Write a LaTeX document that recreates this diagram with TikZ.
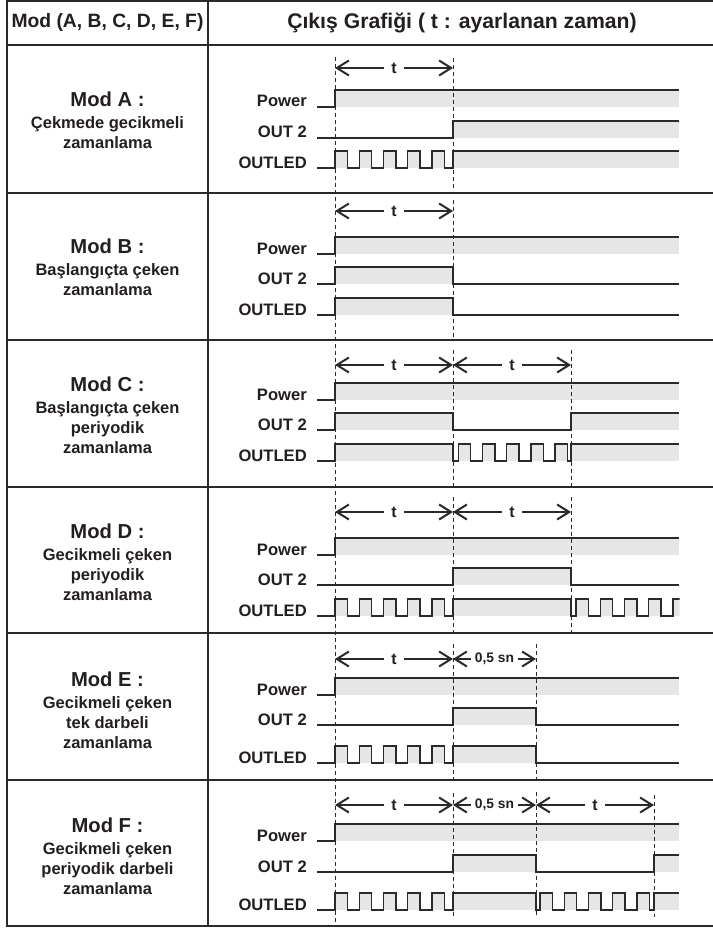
\documentclass[tikz,border=0pt]{standalone}
\usepackage{fontspec}
\setmainfont{Liberation Sans}
\usetikzlibrary{arrows.meta}
\definecolor{lnc}{HTML}{2A2A2A}
\definecolor{bandc}{HTML}{E6E6E7}
\definecolor{txtc}{HTML}{231F20}
\newcommand\fhdL{\fontsize{19.3}{22}\selectfont\bfseries}
\newcommand\fhdR{\fontsize{21.2}{24}\selectfont\bfseries}
\newcommand\ftitle{\fontsize{20.2}{22}\selectfont\bfseries}
\newcommand\fsub{\fontsize{16.5}{20}\selectfont\bfseries}
\newcommand\flab{\fontsize{16.6}{18}\selectfont\bfseries}
\newcommand\farr{\fontsize{16}{18}\selectfont\bfseries}
\newcommand\fsn{\fontsize{13.8}{16}\selectfont\bfseries}
\newcommand\rowlabels[4]{%
  \node[lab] (p#1) at (307,#2) {Power};
  \node[lab] (o#1) at (307,#3) {OUT 2};
  \node[lab] (l#1) at (307,#4) {OUTLED};}
\tikzset{
  tableline/.style={draw=lnc, line width=1.5pt},
  sig/.style={draw=lnc, line width=1.4pt, line join=miter},
  tdash/.style={draw=lnc, line width=0.8pt, dash pattern=on 4pt off 3pt},
  tarrow/.style={draw=lnc, line width=1.3pt,
    {Straight Barb[length=12pt,width=15pt,line width=2pt]}-{Straight Barb[length=12pt,width=15pt,line width=2pt]}},
  lab/.style={anchor=base east, inner sep=0pt, text=txtc, font=\flab},
  modtxt/.style={align=center, text=txtc, font=\fsub, inner sep=0pt},
  alab/.style={fill=white, text=txtc, inner xsep=7.5pt, inner ysep=1pt, font=\farr},
  slab/.style={fill=white, text=txtc, inner xsep=3.5pt, inner ysep=1pt, font=\fsn},
  hd/.style={text=txtc, inner sep=0pt},
}
\begin{document}
\begin{tikzpicture}[x=1pt,y=-1pt]
\useasboundingbox (0,0) rectangle (712,928);
\fill[white] (0,0) rectangle (712,928);

% ---------- fills ----------
\begin{scope}
\clip (300,0) rectangle (679.6,928);
% Row A
\fill[bandc] (335,90) rectangle (679,107);
\fill[bandc] (453,121) rectangle (679,138);
\foreach \k in {0,...,4} \fill[bandc] ({335+\k*24.2},151) rectangle ({347.4+\k*24.2},168);
\fill[bandc] (453,151) rectangle (679,168);
% Row B
\fill[bandc] (335,237) rectangle (679,254);
\fill[bandc] (335,267) rectangle (453,284);
\fill[bandc] (335,298) rectangle (453,315);
% Row C
\fill[bandc] (335,383) rectangle (679,400);
\fill[bandc] (335,413) rectangle (453,430);
\fill[bandc] (571,413) rectangle (679,430);
\fill[bandc] (335,444) rectangle (453,461);
\foreach \k in {0,...,4} \fill[bandc] ({458.3+\k*24.2},444) rectangle ({470.7+\k*24.2},461);
\fill[bandc] (571,444) rectangle (679,461);
% Row D
\fill[bandc] (335,538) rectangle (679,555);
\fill[bandc] (453,568) rectangle (571,585);
\foreach \k in {0,...,4} \fill[bandc] ({335+\k*24.2},599) rectangle ({347.4+\k*24.2},616);
\fill[bandc] (453,599) rectangle (571,616);
\foreach \k in {0,...,4} \fill[bandc] ({576+\k*24.2},599) rectangle ({588.4+\k*24.2},616);
% Row E
\fill[bandc] (335,678) rectangle (679,695);
\fill[bandc] (453,708) rectangle (536,725);
\foreach \k in {0,...,4} \fill[bandc] ({335+\k*24.2},746) rectangle ({347.4+\k*24.2},763);
\fill[bandc] (453,746) rectangle (536,763);
% Row F
\fill[bandc] (335,824) rectangle (679,841);
\fill[bandc] (453,855) rectangle (536,872);
\fill[bandc] (654,855) rectangle (679,872);
\foreach \k in {0,...,4} \fill[bandc] ({335+\k*24.2},893) rectangle ({347.4+\k*24.2},910);
\fill[bandc] (453,893) rectangle (536,910);
\foreach \k in {0,...,4} \fill[bandc] ({540+\k*24.2},893) rectangle ({552.4+\k*24.2},910);
\fill[bandc] (654,893) rectangle (679,910);
\end{scope}

% ---------- dashed time markers ----------
\draw[tdash] (335,57) -- (335,926);
\draw[tdash] (453,58) -- (453,190);
\draw[tdash] (453,200) -- (453,338);
\draw[tdash] (453,350) -- (453,486);
\draw[tdash] (571,350) -- (571,486);
\draw[tdash] (453,497) -- (453,632);
\draw[tdash] (571,497) -- (571,632);
\draw[tdash] (453,644) -- (453,779);
\draw[tdash] (536,644) -- (536,779);
\draw[tdash] (453,793) -- (453,917);
\draw[tdash] (536,792) -- (536,917);
\draw[tdash] (654,795) -- (654,917);

% ---------- waveforms ----------
\begin{scope}
\clip (300,0) rectangle (679.6,928);
% Row A
\draw[sig] (317,107) -- (335,107) -- (335,90) -- (679,90);
\draw[sig] (317,138) -- (453,138) -- (453,121) -- (679,121);
\draw[sig] (317,168) \foreach \k in {0,...,4}{ -- ({335+\k*24.2},168) -- ({335+\k*24.2},151) -- ({347.4+\k*24.2},151) -- ({347.4+\k*24.2},168)} -- (453,168) -- (453,151) -- (679,151);
% Row B
\draw[sig] (317,254) -- (335,254) -- (335,237) -- (679,237);
\draw[sig] (317,284) -- (335,284) -- (335,267) -- (453,267) -- (453,284) -- (679,284);
\draw[sig] (317,315) -- (335,315) -- (335,298) -- (453,298) -- (453,315) -- (679,315);
% Row C
\draw[sig] (317,400) -- (335,400) -- (335,383) -- (679,383);
\draw[sig] (317,430) -- (335,430) -- (335,413) -- (453,413) -- (453,430) -- (571,430) -- (571,413) -- (679,413);
\draw[sig] (317,461) -- (335,461) -- (335,444) -- (453,444) -- (453,461) \foreach \k in {0,...,4}{ -- ({458.3+\k*24.2},461) -- ({458.3+\k*24.2},444) -- ({470.7+\k*24.2},444) -- ({470.7+\k*24.2},461)} -- (571,461) -- (571,444) -- (679,444);
% Row D
\draw[sig] (317,555) -- (335,555) -- (335,538) -- (679,538);
\draw[sig] (317,585) -- (453,585) -- (453,568) -- (571,568) -- (571,585) -- (679,585);
\draw[sig] (317,616) \foreach \k in {0,...,4}{ -- ({335+\k*24.2},616) -- ({335+\k*24.2},599) -- ({347.4+\k*24.2},599) -- ({347.4+\k*24.2},616)} -- (453,616) -- (453,599) -- (571,599) -- (571,616) \foreach \k in {0,...,4}{ -- ({576+\k*24.2},616) -- ({576+\k*24.2},599) -- ({588.4+\k*24.2},599) -- ({588.4+\k*24.2},616)} -- (700,616);
% Row E
\draw[sig] (317,695) -- (335,695) -- (335,678) -- (679,678);
\draw[sig] (317,725) -- (453,725) -- (453,708) -- (536,708) -- (536,725) -- (679,725);
\draw[sig] (317,763) \foreach \k in {0,...,4}{ -- ({335+\k*24.2},763) -- ({335+\k*24.2},746) -- ({347.4+\k*24.2},746) -- ({347.4+\k*24.2},763)} -- (453,763) -- (453,746) -- (536,746) -- (536,763) -- (679,763);
% Row F
\draw[sig] (317,841) -- (335,841) -- (335,824) -- (679,824);
\draw[sig] (317,872) -- (453,872) -- (453,855) -- (536,855) -- (536,872) -- (654,872) -- (654,855) -- (679,855);
\draw[sig] (317,910) \foreach \k in {0,...,4}{ -- ({335+\k*24.2},910) -- ({335+\k*24.2},893) -- ({347.4+\k*24.2},893) -- ({347.4+\k*24.2},910)} -- (453,910) -- (453,893) -- (536,893) -- (536,910) \foreach \k in {0,...,4}{ -- ({540+\k*24.2},910) -- ({540+\k*24.2},893) -- ({552.4+\k*24.2},893) -- ({552.4+\k*24.2},910)} -- (654,910) -- (654,893) -- (679,893);
\end{scope}

% ---------- time arrows ----------
\coordinate (a0) at (335,68);  \coordinate (a1) at (453,68);
\draw[tarrow] (a0) -- (a1) node[midway, alab] (ta) {t};
\coordinate (b0) at (335,211); \coordinate (b1) at (453,211);
\draw[tarrow] (b0) -- (b1) node[midway, alab] (tb) {t};
\coordinate (c0) at (335,365); \coordinate (c1) at (453,365); \coordinate (c2) at (571,365);
\draw[tarrow] (c0) -- (c1) node[midway, alab] (tc1) {t};
\draw[tarrow] (c1) -- (c2) node[midway, alab] (tc2) {t};
\coordinate (d0) at (335,512); \coordinate (d1) at (453,512); \coordinate (d2) at (571,512);
\draw[tarrow] (d0) -- (d1) node[midway, alab] (td1) {t};
\draw[tarrow] (d1) -- (d2) node[midway, alab] (td2) {t};
\coordinate (e0) at (335,659); \coordinate (e1) at (453,659); \coordinate (e2) at (536,659);
\draw[tarrow] (e0) -- (e1) node[midway, alab] (te1) {t};
\draw[tarrow] (e1) -- (e2) node[midway, slab] (te2) {0,5 sn};
\coordinate (f0) at (335,805); \coordinate (f1) at (453,805); \coordinate (f2) at (536,805); \coordinate (f3) at (654,805);
\draw[tarrow] (f0) -- (f1) node[midway, alab] (tf1) {t};
\draw[tarrow] (f1) -- (f2) node[midway, slab] (tf2) {0,5 sn};
\draw[tarrow] (f2) -- (f3) node[midway, alab] (tf3) {t};

% ---------- signal labels ----------
\rowlabels{A}{107}{138}{168}
\rowlabels{B}{254}{284}{315}
\rowlabels{C}{400}{430}{461}
\rowlabels{D}{555}{585}{616}
\rowlabels{E}{695}{725}{763}
\rowlabels{F}{841}{872}{910}

% ---------- table (open at the right edge) ----------
\draw[tableline] (713,1) -- (7,1) -- (7,926) -- (713,926);
\draw[tableline] (208,1) -- (208,926);
\foreach \yy in {45,193,340,487,633,780} \draw[tableline] (7,\yy) -- (713,\yy);

% ---------- headers ----------
\node[hd, font=\fhdL] (hL) at (107.5,23) {Mod (A, B, C, D, E, F)};
\node[hd, font=\fhdR] (hR) at (462,23) {Çıkış Grafiği ( t : ayarlanan zaman)};

% ---------- mode texts ----------
\node[modtxt] (mA) at (107.5,120) {{\ftitle Mod A :}\\[2pt]Çekmede gecikmeli\\zamanlama};
\node[modtxt] (mB) at (107.5,267) {{\ftitle Mod B :}\\[2pt]Başlangıçta çeken\\zamanlama};
\node[modtxt] (mC) at (107.5,415) {{\ftitle Mod C :}\\[2pt]Başlangıçta çeken\\periyodik\\zamanlama};
\node[modtxt] (mD) at (107.5,562) {{\ftitle Mod D :}\\[2pt]Gecikmeli çeken\\periyodik\\zamanlama};
\node[modtxt] (mE) at (107.5,710) {{\ftitle Mod E :}\\[2pt]Gecikmeli çeken\\tek darbeli\\zamanlama};
\node[modtxt] (mF) at (107.5,856) {{\ftitle Mod F :}\\[2pt]Gecikmeli çeken\\periyodik darbeli\\zamanlama};
\end{tikzpicture}
\end{document}
